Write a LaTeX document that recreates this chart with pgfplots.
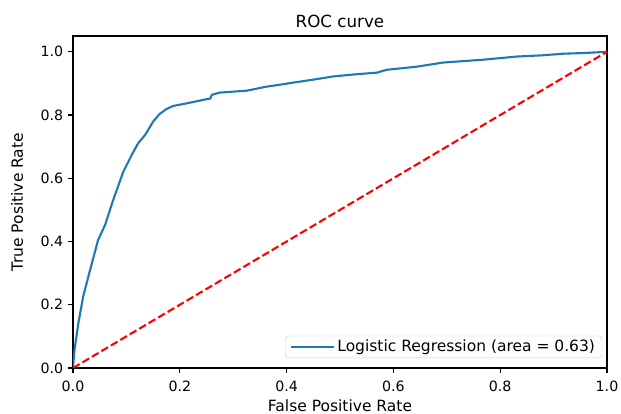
\documentclass[border=0pt]{standalone}
\usepackage{fontspec}
\setmainfont{DejaVu Sans}
\usepackage{pgfplots}
\pgfplotsset{compat=1.18}
\definecolor{mplblue}{HTML}{1F77B4}
\begin{document}
\fontsize{13.9bp}{16bp}\selectfont
\begin{tikzpicture}
\useasboundingbox (-73bp,-46bp) rectangle (548bp,368bp);
\begin{axis}[
  scale only axis,
  width=534bp, height=332bp,
  xmin=0, xmax=1, ymin=0, ymax=1.05,
  xtick={0,0.2,...,1.0}, ytick={0,0.2,...,1.0},
  xtick pos=left, ytick pos=left,
  tick align=outside,
  major tick length=4.9bp,
  tick style={black, line width=1.1bp},
  axis line style={black, line width=1.1bp},
  /pgf/number format/assume math mode=true,
  /pgf/number format/.cd, fixed, fixed zerofill, precision=1, /tikz/.cd,
  tick label style={font=\fontsize{14.2bp}{16bp}\selectfont},
  xticklabel style={yshift=-3bp},
  label style={font=\fontsize{15.5bp}{18bp}\selectfont},
  title={ROC curve},
  title style={font=\fontsize{16.7bp}{19bp}\selectfont, yshift=-3bp},
  xlabel={False Positive Rate},
  ylabel={True Positive Rate},
  xlabel style={yshift=1.5bp},
  ylabel style={yshift=8bp},
  legend style={at={(rel axis cs:0.991,0.03)}, anchor=south east,
    font=\fontsize{15.5bp}{18bp}\selectfont, draw=black!20, rounded corners=3bp,
    inner xsep=5bp, inner ysep=2bp},
  legend cell align=left,
  legend image code/.code={\path (0bp,0bp) -- (43bp,0bp);\draw[#1] (0bp,0bp) -- (33bp,0bp);},
]
\addplot[mplblue, line width=2.1bp] coordinates {
  (0,0)(0.003,0.06)(0.010,0.141)(0.019,0.226)(0.032,0.31)(0.047,0.405)
  (0.060,0.452)(0.075,0.53)(0.094,0.62)(0.110,0.674)(0.122,0.711)
  (0.135,0.737)(0.150,0.779)(0.162,0.803)(0.175,0.819)(0.188,0.829)
  (0.207,0.835)(0.230,0.843)(0.250,0.850)(0.257,0.852)(0.260,0.864)
  (0.275,0.871)(0.300,0.874)(0.325,0.877)(0.363,0.890)(0.388,0.896)
  (0.406,0.901)(0.450,0.912)(0.487,0.922)(0.530,0.929)(0.569,0.934)
  (0.587,0.943)(0.644,0.953)(0.693,0.966)(0.768,0.975)(0.831,0.985)
  (0.880,0.989)(0.918,0.994)(0.955,0.996)(1,1)
};
\addlegendentry{Logistic Regression (area = 0.63)}
\addplot[red, line width=2.1bp, dash pattern=on 7.7bp off 3.3bp, forget plot] coordinates {
  (0,0)(1,1)
};
\end{axis}
\end{tikzpicture}
\end{document}
